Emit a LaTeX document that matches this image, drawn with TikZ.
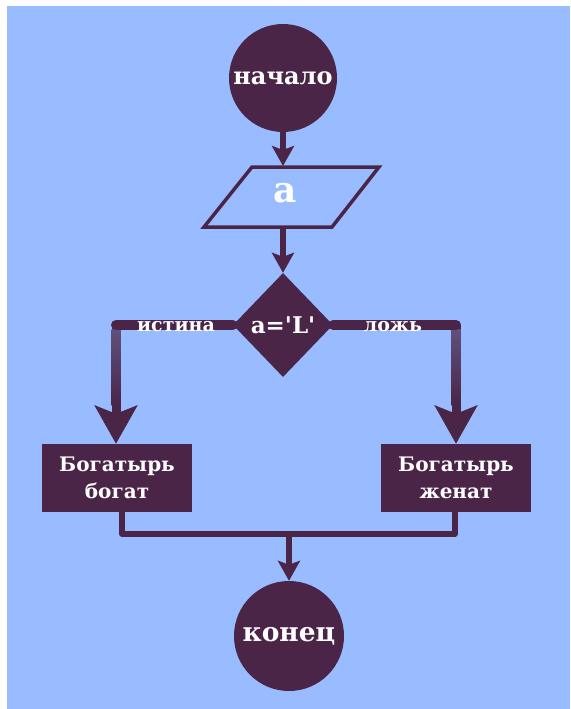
\documentclass[tikz,border=0pt]{standalone}
\usepackage{fontspec}
\newfontfamily\df{DejaVu Serif}
\usetikzlibrary{shapes.geometric,arrows.meta}
\definecolor{bg}{RGB}{153,187,255}
\definecolor{plum}{RGB}{74,37,72}
\definecolor{plumlight}{RGB}{96,80,124}
\begin{document}
\begin{tikzpicture}[x=1pt,y=-1pt,
  term/.style={circle,fill=plum,text=white,font=\df\bfseries\fontsize{24}{28}\selectfont,minimum size=108pt,inner sep=0pt},
  proc/.style={rectangle,fill=plum,text=white,font=\df\bfseries\fontsize{20}{27}\selectfont,minimum width=150pt,minimum height=68pt,align=center,inner sep=0pt},
  dec/.style={diamond,fill=plum,text=white,font=\df\bfseries\fontsize{23}{27}\selectfont,minimum width=100pt,minimum height=104pt,inner sep=0pt},
  flow/.style={draw=plum,line width=6pt,-{Stealth[length=20pt,width=22pt,inset=4pt]}},
  bigflow/.style={draw=plum,line width=9pt,-{Stealth[length=38pt,width=42pt,inset=8pt]}},
  bar/.style={draw=plum,line width=10pt,line cap=round},
  joinline/.style={draw=plum,line width=5.5pt,line cap=round,line join=round},
  lbl/.style={text=white,font=\df\bfseries\fontsize{19}{22}\selectfont,inner sep=0pt}
]
\useasboundingbox (0,0) rectangle (570,709);
\fill[white] (0,0) rectangle (570,709);
\fill[bg] (7,6) rectangle (570,709);

% start
\node[term] (st) at (283,78) {начало};

% input parallelogram
\coordinate (ptl) at (252,167);
\coordinate (ptr) at (379,167);
\coordinate (pbr) at (332,227);
\coordinate (pbl) at (204,227);
\draw[plum,line width=3.5pt,line join=miter] (ptl) -- (ptr) -- (pbr) -- (pbl) -- cycle;
\node[text=white,font=\df\bfseries\fontsize{36}{40}\selectfont,inner sep=0pt] (inp) at (285,193) {a};
\coordinate (pin) at (283,166);
\coordinate (pout) at (283,228);

% decision
\node[dec] (dc) at (283,325) {a='L'};

% boxes
\node[proc] (b1) at (117,478) {Богатырь\\богат};
\node[proc] (b2) at (456,478) {Богатырь\\женат};

% end
\node[term,minimum size=110pt,font=\df\bfseries\fontsize{26.5}{30}\selectfont] (en) at (289,636) {конец};

% connectors
\draw[flow] (st) -- (pin);
\draw[flow] (pout) -- (dc.north);

\coordinate (cl) at (116,325);
\coordinate (cr) at (456,325);
\draw[bigflow] (cl) -- (cl |- b1.north);
\draw[bigflow] (cr) -- (cr |- b2.north);
\shade[top color=plumlight,bottom color=plum] (111.5,329) rectangle (120.5,405);
\shade[top color=plumlight,bottom color=plum] (451.5,329) rectangle (460.5,405);
\draw[bar] (dc.west) -- (cl);
\draw[bar] (dc.east) -- (cr);
\node[lbl] (tl) at (176,327) {истина};
\node[lbl] (fl) at (393,327) {ложь};

\coordinate (j) at (289,534);
\draw[joinline] ([xshift=5pt]b1.south) |- (j) -| ([xshift=-1pt]b2.south);
\draw[flow] (j) -- (en.north);
\end{tikzpicture}
\end{document}
